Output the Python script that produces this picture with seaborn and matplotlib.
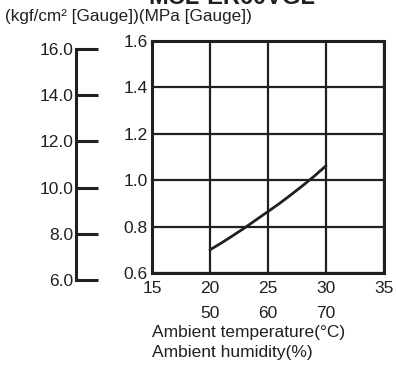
import matplotlib
matplotlib.use("Agg")
import matplotlib.pyplot as plt
import matplotlib.transforms as mtransforms
import seaborn as sns
import pandas as pd

sns.set_style("white")
plt.rcParams['font.family'] = ['Liberation Sans', 'DejaVu Sans']

# Data
temperature = [20, 21, 22, 23, 24, 25, 26, 27, 28, 29, 30]
pressure_mpa = [0.70, 0.73, 0.762, 0.795, 0.83, 0.865, 0.90, 0.938, 0.977, 1.018, 1.062]
temp_ticks = [15, 20, 25, 30, 35]
mpa_ticks = [0.6, 0.8, 1.0, 1.2, 1.4, 1.6]
kgf_ticks = [6.0, 8.0, 10.0, 12.0, 14.0, 16.0]
humidity_labels = ["50", "60", "70"]
humidity_temps = [20, 25, 30]
title = "MCL-ER60VGL"
unit_label = "(kgf/cm² [Gauge])(MPa [Gauge])"
xlabel1 = "Ambient temperature(°C)"
xlabel2 = "Ambient humidity(%)"

W, H = 396, 365
fig = plt.figure(figsize=(W / 100, H / 100), dpi=100)

def px(x0, y0, x1, y1):
    return [x0 / W, 1 - y1 / H, (x1 - x0) / W, (y1 - y0) / H]

fs = 12.5
ink = "#231f20"

# Main axes
ax = fig.add_axes(px(152, 41, 384, 273))
df = pd.DataFrame({"t": temperature, "p": pressure_mpa})
sns.lineplot(data=df, x="t", y="p", ax=ax, color=ink, linewidth=2.0)
ax.set_xlim(temp_ticks[0], temp_ticks[-1])
ax.set_ylim(mpa_ticks[0], mpa_ticks[-1])
ax.set_xticks(temp_ticks)
ax.set_yticks(mpa_ticks)
ax.set_xticklabels([str(t) for t in temp_ticks], fontsize=fs, color=ink)
ax.set_yticklabels([f"{v:.1f}" for v in mpa_ticks], fontsize=fs, color=ink)
ax.tick_params(length=0, pad=3)
ax.tick_params(axis="x", pad=6)
ax.set_xlabel("")
ax.set_ylabel("")
ax.grid(True, color=ink, linewidth=1.6)
for s in ax.spines.values():
    s.set_visible(True)
    s.set_color(ink)
    s.set_linewidth(2.2)

# Humidity row
trans = mtransforms.blended_transform_factory(ax.transData, fig.transFigure)
for t, lab in zip(humidity_temps, humidity_labels):
    ax.text(t, 1 - 313 / H, lab, transform=trans, ha="center", va="center",
            fontsize=fs, color=ink)
fig.text(152 / W, 1 - 332 / H, xlabel1, ha="left", va="center", fontsize=fs, color=ink)
fig.text(152 / W, 1 - 353 / H, xlabel2, ha="left", va="center", fontsize=fs, color=ink)

# Auxiliary kgf axis
ax2 = fig.add_axes(px(76, 49, 77, 280))
ax2.set_ylim(kgf_ticks[0], kgf_ticks[-1])
ax2.set_yticks(kgf_ticks)
ax2.set_yticklabels([f"{v:.1f}" for v in kgf_ticks], fontsize=fs, color=ink)
ax2.set_xticks([])
ax2.patch.set_visible(False)
for k in ["top", "right", "bottom"]:
    ax2.spines[k].set_visible(False)
ax2.spines["left"].set_color(ink)
ax2.spines["left"].set_linewidth(2.2)
ax2.tick_params(axis="y", left=True, direction="in", length=15.5, width=2.2,
                color=ink, pad=2)

# Texts at top
fig.text(5 / W, 1 - 17 / H, unit_label, ha="left", va="center", fontsize=12.3, color=ink)
fig.text(232 / W, 1 + 3 / H, title, ha="center", va="center", fontsize=17,
         fontweight="bold", color=ink)

fig.savefig("out.png", dpi=100)
